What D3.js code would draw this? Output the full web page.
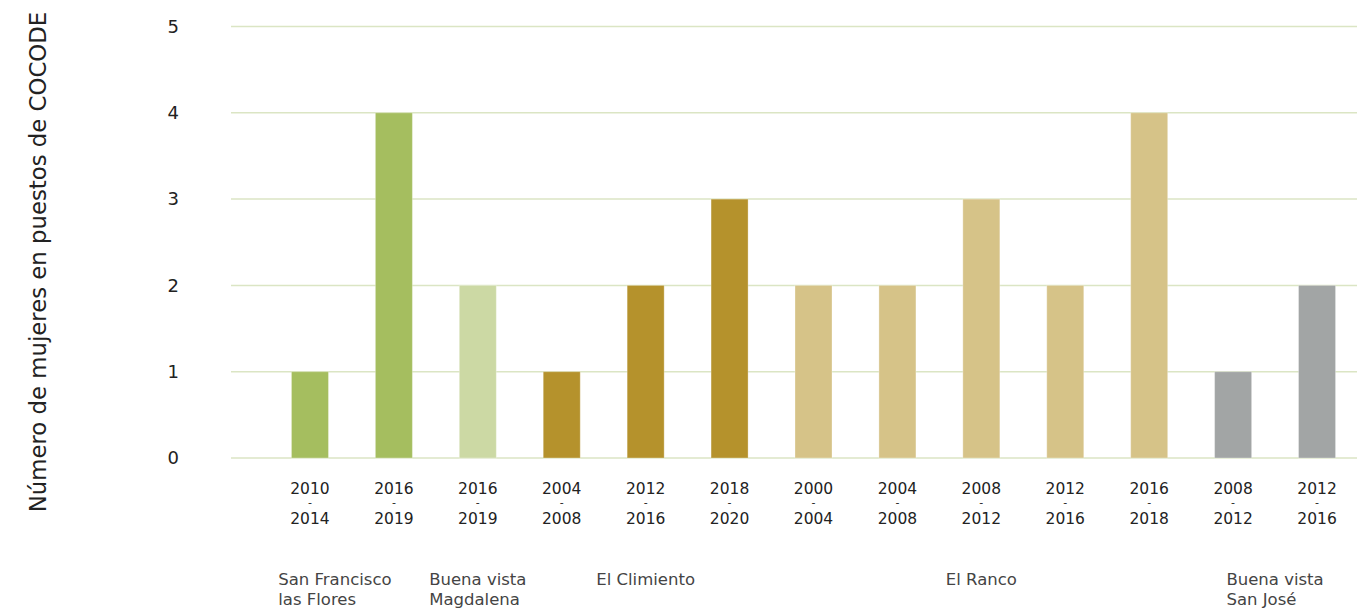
<!DOCTYPE html>
<html>
<head>
<meta charset="utf-8">
<script src="https://cdn.jsdelivr.net/npm/d3@7"></script>
<style>
  html, body { margin: 0; padding: 0; background: #fff; }
  svg { display: block; }
  text { font-family: "DejaVu Sans", "Noto Sans", sans-serif; }
</style>
</head>
<body>
<svg id="chart" width="1357" height="611"></svg>
<script>
// ---- data ----
const periodsStart = ["2010","2016","2016","2004","2012","2018","2000","2004","2008","2012","2016","2008","2012"];
const periodsEnd   = ["2014","2019","2019","2008","2016","2020","2004","2008","2012","2016","2018","2012","2016"];
const values       = [1, 4, 2, 1, 2, 3, 2, 2, 3, 2, 4, 1, 2];
const barGroup     = [0, 0, 1, 2, 2, 2, 3, 3, 3, 3, 3, 4, 4];
const groupNames   = [["San Francisco","las Flores"],["Buena vista","Magdalena"],["El Climiento"],["El Ranco"],["Buena vista","San José"]];
const groupColors  = ["#a5be5f", "#ccd9a4", "#b5922c", "#d6c388", "#a2a5a5"];
const yTicks       = [0, 1, 2, 3, 4, 5];
const yTitle       = "Número de mujeres en puestos de COCODE";

// ---- layout ----
const svg = d3.select("#chart");
const x = d3.scaleBand()
  .domain(d3.range(values.length))
  .range([268, 1359])
  .paddingInner(0.559)
  .paddingOuter(0.2795);
const y = d3.scaleLinear().domain([0, 5]).range([458, 26.5]);

// gridlines
svg.append("g").selectAll("line")
  .data(yTicks).join("line")
  .attr("x1", 231).attr("x2", 1357)
  .attr("y1", d => y(d)).attr("y2", d => y(d))
  .attr("stroke", "#dbe5c4").attr("stroke-width", 1.5);

// y tick labels
const yAxis = d3.axisLeft(y).tickValues(yTicks).tickSize(0).tickPadding(0).tickFormat(d3.format("d"));
const ya = svg.append("g").attr("transform", "translate(179,0)").call(yAxis);
ya.select(".domain").remove();
ya.selectAll("text")
  .attr("font-size", 18).attr("fill", "#222")
  .attr("font-family", "'DejaVu Sans', sans-serif")
  .attr("dy", "0.32em");

// y title
svg.append("text")
  .attr("transform", "translate(46,262) rotate(-90)")
  .attr("text-anchor", "middle")
  .attr("font-size", 22.8).attr("fill", "#222")
  .text(yTitle);

// bars
svg.append("g").selectAll("rect")
  .data(values).join("rect")
  .attr("x", (d, i) => x(i))
  .attr("width", x.bandwidth())
  .attr("y", d => y(d))
  .attr("height", d => y(0) - y(d))
  .attr("fill", (d, i) => groupColors[barGroup[i]])
  .attr("stroke", "#ffffff").attr("stroke-opacity", 0.3).attr("stroke-width", 1);

// period labels (one text per bar, three lines)
const pl = svg.append("g").selectAll("text")
  .data(values).join("text")
  .attr("text-anchor", "middle")
  .attr("font-size", 15.5).attr("fill", "#222");
pl.append("tspan").attr("x", (d, i) => x(i) + x.bandwidth() / 2).attr("y", 494).text((d, i) => periodsStart[i]);
pl.append("tspan").attr("x", (d, i) => x(i) + x.bandwidth() / 2).attr("y", 506).attr("font-size", 11).text("-");
pl.append("tspan").attr("x", (d, i) => x(i) + x.bandwidth() / 2).attr("y", 524).text((d, i) => periodsEnd[i]);

// group labels (centered block, left-aligned lines)
groupNames.forEach((lines, g) => {
  const idx = d3.range(values.length).filter(i => barGroup[i] === g);
  const cx = d3.mean(idx, i => x(i) + x.bandwidth() / 2);
  const t = svg.append("text")
    .attr("font-size", 16.5).attr("fill", "#444");
  lines.forEach((ln, k) => {
    t.append("tspan").attr("x", 0).attr("y", 585 + k * 20).text(ln);
  });
  const w = t.node().getBBox().width;
  const left = g === 0 ? cx - w / 2 - 17 : cx - w / 2;
  t.selectAll("tspan").attr("x", left);
});
</script>
</body>
</html>
